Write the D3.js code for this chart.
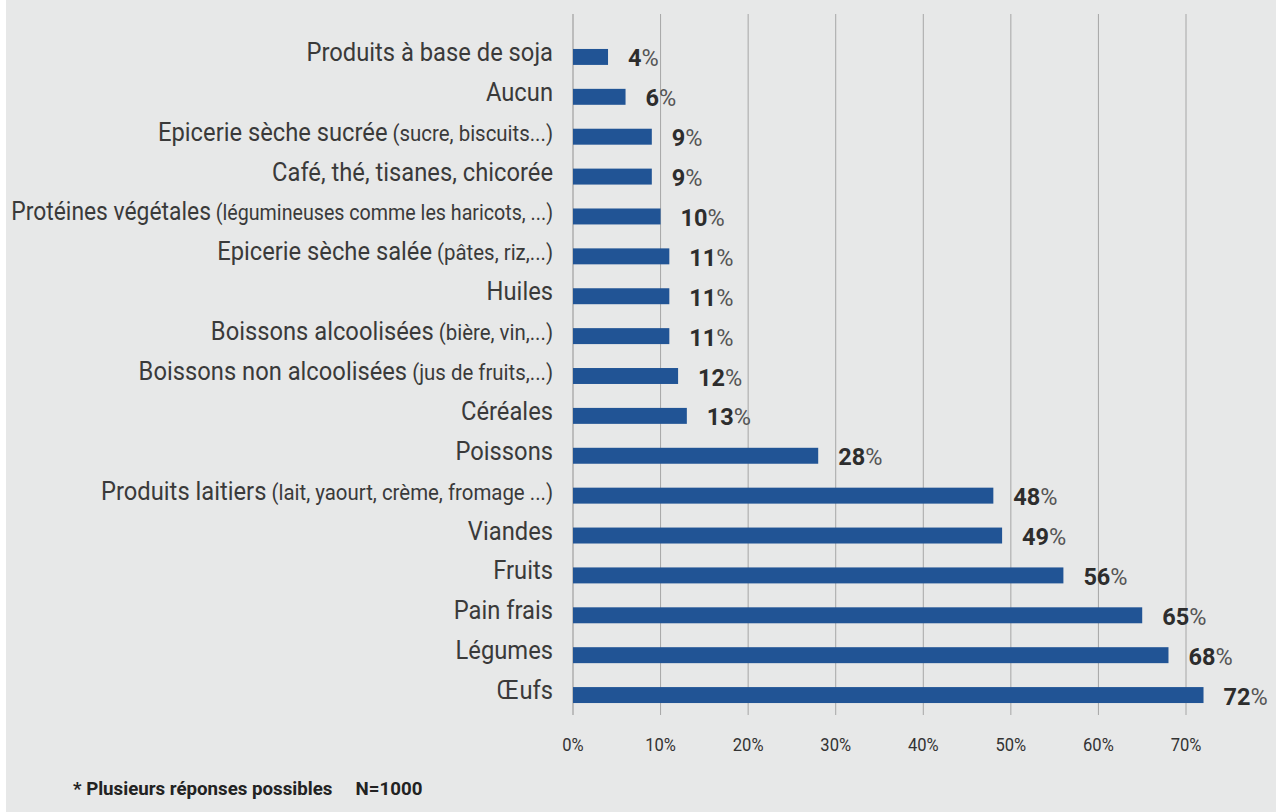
<!DOCTYPE html>
<html>
<head>
<meta charset="utf-8">
<script src="https://cdn.jsdelivr.net/npm/d3@7"></script>
<style>
  body { margin: 0; background: #ffffff; }
  svg { display: block; }
</style>
</head>
<body>
<div class="chart"></div>
<script>
// data, top to bottom
var categories = ["Produits à base de soja", "Aucun", "Epicerie sèche sucrée", "Café, thé, tisanes, chicorée",
  "Protéines végétales", "Epicerie sèche salée", "Huiles", "Boissons alcoolisées", "Boissons non alcoolisées",
  "Céréales", "Poissons", "Produits laitiers", "Viandes", "Fruits", "Pain frais", "Légumes", "Œufs"];
var details = ["", "", "(sucre, biscuits...)", "", "(légumineuses comme les haricots, ...)", "(pâtes, riz,...)",
  "", "(bière, vin,...)", "(jus de fruits,...)", "", "", "(lait, yaourt, crème, fromage ...)", "", "", "", "", ""];
var values = [4, 6, 9, 9, 10, 11, 11, 11, 12, 13, 28, 48, 49, 56, 65, 68, 72];
var tickValues = [0, 10, 20, 30, 40, 50, 60, 70];
var footnote = "* Plusieurs réponses possibles     N=1000";

var width = 1276, height = 812;

var svg = d3.select('.chart').append('svg')
    .attr('width', width)
    .attr('height', height);

// grey panel
svg.append('rect')
    .attr('x', 6).attr('y', 0)
    .attr('width', width - 6).attr('height', height)
    .attr('fill', '#e7e8e8');

var x = d3.scaleLinear().domain([0, 70]).range([573, 1186]);
var y = d3.scaleBand().domain(d3.range(categories.length))
    .range([37, 715]).paddingInner(0.6).paddingOuter(0.3);

// grid
svg.append('g').selectAll('line')
    .data(tickValues)
    .enter().append('line')
    .attr('x1', function(d){ return x(d); })
    .attr('x2', function(d){ return x(d); })
    .attr('y1', 14).attr('y2', 715)
    .attr('stroke', function(d){ return d === 0 ? '#bcbcbc' : '#a6a6a6'; })
    .attr('stroke-width', function(d){ return d === 0 ? 2 : 1; });

// x axis labels (slightly narrow font)
svg.append('g').selectAll('text')
    .data(tickValues)
    .enter().append('text')
    .attr('transform', function(d){ return 'translate(' + x(d) + ',751) scale(0.92,1)'; })
    .attr('text-anchor', 'middle')
    .attr('font-family', 'Roboto')
    .attr('font-size', 18)
    .attr('fill', '#333')
    .text(function(d){ return d + '%'; });

// bars
svg.append('g').selectAll('rect')
    .data(values)
    .enter().append('rect')
    .attr('x', x(0))
    .attr('y', function(d, i){ return y(i); })
    .attr('width', function(d){ return x(d) - x(0); })
    .attr('height', y.bandwidth())
    .attr('fill', '#215495');

// category labels
var labelRight = 553, labelLeft = 11;
var labels = svg.append('g').selectAll('text')
    .data(categories)
    .enter().append('text')
    .attr('text-anchor', 'end')
    .attr('font-family', 'Roboto')
    .attr('fill', '#3a3a3a');
labels.append('tspan')
    .attr('font-size', 25)
    .text(function(d){ return d; });
labels.append('tspan')
    .attr('font-size', 21.5)
    .text(function(d, i){ return details[i] ? ' ' + details[i] : ''; });
// squeeze a bit, more if a label would run past the left edge
labels.attr('transform', function(d, i){
  var w = this.getComputedTextLength();
  var k = Math.min(0.95, (labelRight - labelLeft) / w);
  return 'translate(' + labelRight + ',' + (y(i) + y.bandwidth() / 2 + 4) + ') scale(' + k + ',1)';
});

// value labels
var vl = svg.append('g').selectAll('text')
    .data(values)
    .enter().append('text')
    .attr('x', function(d){ return x(d) + 20; })
    .attr('y', function(d, i){ return y(i) + y.bandwidth() / 2 + 9.5; })
    .attr('font-family', 'Roboto')
    .attr('font-size', 23.5);
vl.append('tspan')
    .attr('font-weight', 'bold')
    .attr('fill', '#2d2d2d')
    .text(function(d){ return d; });
vl.append('tspan')
    .attr('fill', '#555')
    .text('%');

// footnote
svg.append('text')
    .attr('x', 73).attr('y', 795)
    .attr('font-family', 'Roboto')
    .attr('font-weight', 'bold')
    .attr('font-size', 18.7)
    .attr('fill', '#222')
    .attr('xml:space', 'preserve')
    .style('white-space', 'pre')
    .text(footnote);
</script>
</body>
</html>
